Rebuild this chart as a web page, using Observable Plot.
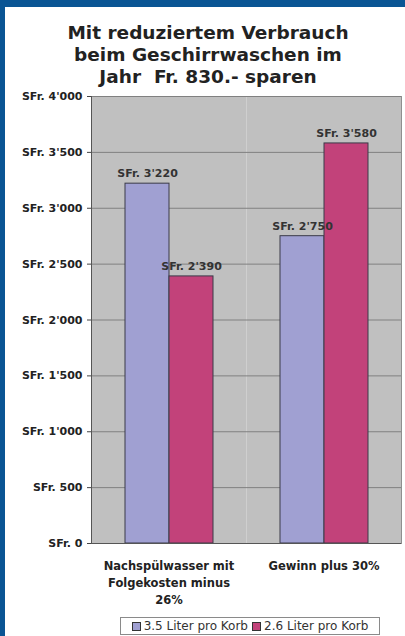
<!DOCTYPE html>
<html>
<head>
<meta charset="utf-8">
<script src="https://cdn.jsdelivr.net/npm/d3@7"></script>
<script src="https://cdn.jsdelivr.net/npm/@observablehq/plot@0.6"></script>
<style>
  html, body { margin: 0; padding: 0; background: #ffffff; }
  #page {
    position: relative; width: 405px; height: 636px; box-sizing: border-box;
    border-left: 5px solid #0a5594; border-top: 7px solid #0a5594;
    background: #ffffff; overflow: hidden;
  }
  #title {
    position: absolute; left: 6px; top: 15px; width: 394px; text-align: center;
    font: bold 18.5px "DejaVu Sans", sans-serif; line-height: 22px; color: #222;
  }
  #chart { position: absolute; left: 0; top: 83px; }
  #legend {
    position: absolute; left: 115px; top: 610px; width: 260px; height: 18px; box-sizing: border-box;
    border: 1px solid #8a8a8a; display: flex; align-items: center; justify-content: center; gap: 4px;
    font: 12px "DejaVu Sans", sans-serif; color: #333; white-space: nowrap;
  }
  #legend .sw { display: inline-block; width: 7px; height: 7px; border: 1px solid #333; margin-right: 3px; vertical-align: middle; }
</style>
</head>
<body>
<div id="page">
  <div id="title">Mit reduziertem Verbrauch<br>beim Geschirrwaschen im<br>Jahr&nbsp; Fr. 830.- sparen</div>
  <div id="chart"></div>
  <div id="legend"></div>
</div>
<script>
// Categories (with their printed line breaks) and the two dosing series
const categories = ["Nachspülwasser mit\nFolgekosten minus\n26%", "Gewinn plus 30%"];
const seriesNames = ["3.5 Liter pro Korb", "2.6 Liter pro Korb"];
const values35 = [3220, 2750];
const values26 = [2390, 3580];
const seriesColors = ["#a0a0d2", "#c2427a"];
const yTicks = [0, 500, 1000, 1500, 2000, 2500, 3000, 3500, 4000];

const chf = d3.formatLocale({decimal: ".", thousands: "'", grouping: [3], currency: ["SFr. ", ""]});
const fmt = (v) => "SFr. " + chf.format(",d")(v);

const rows = categories.flatMap((c, i) => [
  {category: c, series: seriesNames[0], value: values35[i]},
  {category: c, series: seriesNames[1], value: values26[i]}
]);

const chart = Plot.plot({
  width: 400,
  height: 520,
  marginLeft: 85,
  marginRight: 4,
  marginTop: 6,
  marginBottom: 67,
  style: {fontFamily: "DejaVu Sans, sans-serif", fontSize: "11px", color: "#222", background: "transparent"},
  fx: {domain: categories, padding: 0},
  x: {domain: seriesNames, paddingInner: 0, paddingOuter: 0.75, axis: null},
  y: {domain: [0, 4000]},
  color: {domain: seriesNames, range: seriesColors},
  marks: [
    Plot.frame({fill: "#c0c0c0"}),
    Plot.ruleY(yTicks.slice(1), {stroke: "#808080", strokeWidth: 1}),
    Plot.frame({anchor: "right", stroke: "#8f8f8f", fx: () => categories[categories.length - 1]}),
    Plot.frame({anchor: "left", stroke: "#555", fx: () => categories[0]}),
    Plot.barY(rows, {fx: "category", x: "series", y: "value", fill: "series", stroke: "#3a3a48", strokeWidth: 1}),
    Plot.ruleY([0], {stroke: "#555"}),
    Plot.text(rows, {fx: "category", x: "series", y: "value", text: (d) => fmt(d.value), dy: -10, fontWeight: "bold", fill: "#333"}),
    Plot.axisY({ticks: yTicks, tickFormat: fmt, tickSize: 4, tickPadding: 5, fontWeight: "bold", stroke: "#444", label: null}),
    Plot.axisFx({anchor: "bottom", tickSize: 0, tickPadding: 15, fontWeight: "bold", fontSize: 11.5, lineHeight: 1.45, label: null})
  ]
});
document.getElementById("chart").appendChild(chart);

// Legend below the chart
const legend = document.getElementById("legend");
seriesNames.forEach((name, i) => {
  const item = document.createElement("span");
  const sw = document.createElement("span");
  sw.className = "sw";
  sw.style.background = seriesColors[i];
  item.appendChild(sw);
  item.appendChild(document.createTextNode(name));
  legend.appendChild(item);
});
</script>
</body>
</html>
